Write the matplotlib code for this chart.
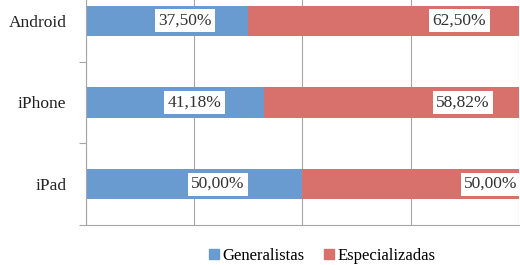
import matplotlib.pyplot as plt
from matplotlib.patches import Patch

categories = ["iPad", "iPhone", "Android"]
generalistas = [50.00, 41.18, 37.50]
especializadas = [50.00, 58.82, 62.50]
lbl_gen = ["50,00%", "41,18%", "37,50%"]
lbl_esp = ["50,00%", "58,82%", "62,50%"]

blue = "#6A9BD0"
red = "#D8716B"
grey = "#A6A6A6"

plt.rcParams['font.family'] = ['Liberation Serif', 'DejaVu Serif']

fig = plt.figure(figsize=(5.2, 2.65), dpi=100)
ax = fig.add_axes([0.165, 0.151, 0.833, 0.925])

y = list(range(len(categories)))
ax.barh(y, generalistas, height=0.37, color=blue, zorder=2)
ax.barh(y, especializadas, left=generalistas, height=0.37, color=red, zorder=2)

# labels placed roughly where the original sits inside each segment
for i in y:
    g = generalistas[i]
    e = especializadas[i]
    ax.text(g * 0.61, i, lbl_gen[i], ha='center', va='center', fontsize=12.5,
            color='#333333', zorder=3,
            bbox=dict(boxstyle='square,pad=0.2', fc='white', ec='none'))
    ax.text(g + e * (0.78 if i > 0 else 0.87), i, lbl_esp[i], ha='center', va='center',
            fontsize=12.5, color='#333333', zorder=3,
            bbox=dict(boxstyle='square,pad=0.2', fc='white', ec='none'))

ax.set_xlim(0, 100)
ax.set_ylim(-0.5, 2.5)
ax.set_xticks([0, 25, 50, 75, 100])
ax.set_xticklabels([])
ax.tick_params(axis='x', length=0)
ax.grid(axis='x', color=grey, linewidth=0.8, zorder=0)

ax.set_yticks(y)
ax.set_yticklabels(categories, fontsize=12.5, color='#222222')
ax.tick_params(axis='y', which='major', length=0, pad=14)
ax.set_yticks([-0.5, 0.5, 1.5, 2.5], minor=True)
ax.tick_params(axis='y', which='minor', length=5, color=grey, width=0.8)

for s in ['top', 'right']:
    ax.spines[s].set_visible(False)
for s in ['left', 'bottom']:
    ax.spines[s].set_color(grey)
    ax.spines[s].set_linewidth(0.8)

handles = [Patch(color=blue, label="Generalistas"), Patch(color=red, label="Especializadas")]
fig.legend(handles=handles, loc='center', bbox_to_anchor=(0.62, 0.035), ncol=2,
           frameon=False, fontsize=12, handlelength=0.6, handleheight=0.6,
           handletextpad=0.2, columnspacing=1.2)

fig.savefig("out.png", dpi=100)
